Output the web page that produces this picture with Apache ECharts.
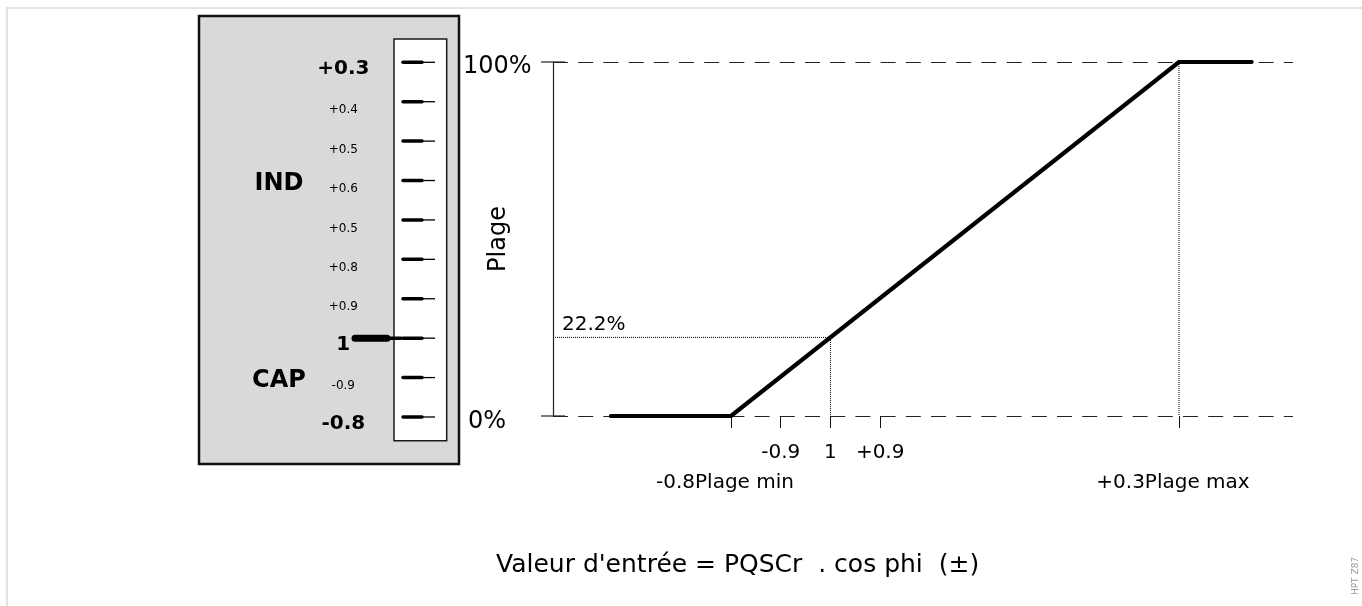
<!DOCTYPE html>
<html><head><meta charset="utf-8">
<script src="https://cdn.jsdelivr.net/npm/echarts@6/dist/echarts.min.js"></script>
<style>html,body{margin:0;padding:0;background:#fff}#c{width:1362px;height:606px}</style>
</head><body><div id="c"></div>
<script>
// ---------------- data ----------------
const scaleLabels = ['+0.3', '+0.4', '+0.5', '+0.6', '+0.5', '+0.8', '+0.9', '1', '-0.9', '-0.8'];
const scaleBold = [0, 7, 9];
const sideLabels = ['IND', 'CAP'];
const sideLabelIndex = [3, 8];
const pointerIndex = 7;

const xTickValues = [0, 11.1, 22.2, 33.3, 100];
const xTickLabels = ['-0.8', '-0.9', '1', '+0.9', '+0.3'];
const xRangeValues = [0, 100];
const xRangeNames = ['Plage min', 'Plage max'];
const yTickValues = [0, 100];
const yTickLabels = ['0%', '100%'];
const curveX = [-26.8, 0, 100, 116.2];
const curveY = [0, 0, 100, 100];
const refX = 22.2;
const refY = 22.2;
const refLabel = '22.2%';
const maxX = 100;
const titleText = "Valeur d'entrée = PQSCr  . cos phi  (±)";
const yName = 'Plage';
const stamp = 'HPT Z87';

// ---------------- layout / style ----------------
const FONT = '"DejaVu Sans", "Liberation Sans", sans-serif';
const X_MIN = -39.73, X_MAX = 125.45;
const S = { tickX0: 204, tickX1: 223, tickX2: 236, labelX: 144.3,
            ptrX0: 156, ptrX1: 188, ptrX2: 202, sideX: 80 };
const labelValueOf = v => xTickLabels[xTickValues.findIndex(t => Math.abs(t - v) < 1e-6)];
const axisLabelValues = xTickValues.filter(v => xRangeValues.indexOf(v) < 0);

const chart = echarts.init(document.getElementById('c'), null, { renderer: 'canvas' });

function renderScale(params, api) {
  const idx = api.value(1);
  const cs = params.coordSys;
  const y = api.coord([0, idx])[1];
  const bold = scaleBold.indexOf(idx) >= 0;
  const ch = [
    { type: 'line', shape: { x1: cs.x + S.tickX0, y1: y, x2: cs.x + S.tickX1, y2: y },
      style: { stroke: '#000', lineWidth: 3.5, lineCap: 'round' } },
    { type: 'line', shape: { x1: cs.x + S.tickX1, y1: y, x2: cs.x + S.tickX2, y2: y },
      style: { stroke: '#000', lineWidth: 1.3 } },
    { type: 'text', style: { text: scaleLabels[idx], x: cs.x + S.labelX, y: y + (bold ? 6.5 : 8.5),
      align: 'center', verticalAlign: 'middle', fill: '#000',
      font: bold ? 'bold 20px ' + FONT : '12px ' + FONT } }
  ];
  if (idx === pointerIndex) {
    ch.push({ type: 'line', shape: { x1: cs.x + S.ptrX0, y1: y, x2: cs.x + S.ptrX1, y2: y },
      style: { stroke: '#000', lineWidth: 7, lineCap: 'round' } });
    ch.push({ type: 'line', shape: { x1: cs.x + S.ptrX1, y1: y, x2: cs.x + S.ptrX2, y2: y },
      style: { stroke: '#000', lineWidth: 3.5, lineCap: 'round' } });
  }
  return { type: 'group', children: ch };
}

function renderSide(params, api) {
  const cs = params.coordSys;
  const idx = api.value(1);
  const y = api.coord([0, idx])[1];
  return { type: 'text', style: { text: sideLabels[params.dataIndex], x: cs.x + S.sideX, y: y + 3.5,
    align: 'center', verticalAlign: 'middle', fill: '#000', font: 'bold 24px ' + FONT } };
}

function renderCaps(params, api) {
  const cs = params.coordSys;
  const y = api.coord([X_MIN, api.value(1)])[1];
  const x = cs.x;
  return { type: 'line', shape: { x1: x - 12, y1: y, x2: x + 12, y2: y },
    style: { stroke: '#222', lineWidth: 1.2 } };
}

function renderRange(params, api) {
  const v = api.value(0);
  const p = api.coord([v, 0]);
  const r = params.dataIndex;
  return { type: 'text', style: { text: labelValueOf(v) + xRangeNames[r], x: p[0] - 6, y: p[1] + 66.5,
    align: 'center', verticalAlign: 'middle', fill: '#000', font: '20px ' + FONT } };
}

const option = {
  animation: false,
  backgroundColor: '#fff',
  textStyle: { fontFamily: FONT },
  title: { text: titleText, left: 491, top: 548,
    textStyle: { fontSize: 25, fontWeight: 'normal', color: '#000', fontFamily: FONT } },
  grid: [
    { left: 553, right: 69, top: 62, bottom: 190, containLabel: false, outerBoundsMode: 'none' },
    { left: 199, top: 16, width: 260, height: 448, show: true, backgroundColor: '#d9d9d9',
      borderColor: '#111', borderWidth: 2.5, containLabel: false, outerBoundsMode: 'none' }
  ],
  xAxis: [
    { type: 'value', gridIndex: 0, min: X_MIN, max: X_MAX, position: 'bottom',
      axisLine: { show: false, onZero: false }, splitLine: { show: false },
      axisTick: { show: true, customValues: xTickValues, length: 12, lineStyle: { color: '#111', width: 1 } },
      axisLabel: { show: true, customValues: axisLabelValues, margin: 26.5, color: '#000', fontSize: 20,
        hideOverlap: false, fontFamily: FONT, formatter: v => labelValueOf(v) } },
    { type: 'value', gridIndex: 1, min: 0, max: 1, show: false }
  ],
  yAxis: [
    { type: 'value', gridIndex: 0, min: 0, max: 100, interval: 100, position: 'left',
      name: yName, nameLocation: 'middle', nameRotate: 90, nameGap: 42, nameMoveOverlap: false,
      nameTextStyle: { fontSize: 24, color: '#000', fontFamily: FONT },
      axisLine: { show: true, onZero: false, lineStyle: { color: '#222', width: 1.2 } },
      axisTick: { show: false },
      axisLabel: { show: true, margin: 90, align: 'left', color: '#000', fontSize: 24,
        formatter: function (v) {
          const i = yTickValues.indexOf(v);
          return (v === 0 ? '{z|' : '{t|') + yTickLabels[i] + '}';
        },
        rich: { t: { fontSize: 24, color: '#000', fontFamily: FONT, padding: [9, 0, 0, 0] },
                z: { fontSize: 24, color: '#000', fontFamily: FONT, padding: [11, 0, 0, 5] } } },
      splitLine: { show: true, lineStyle: { color: '#222', width: 1, type: [15, 10.2], dashOffset: 0 } } },
    { type: 'value', gridIndex: 1, inverse: true, min: -1.175, max: 10.193, show: false }
  ],
  graphic: [
    { type: 'polyline', z: 0, silent: true, shape: { points: [[7, 606], [7, 8], [1362, 8]] },
      style: { stroke: '#e3e3e3', lineWidth: 2, fill: null } },
    { type: 'rect', z: 1, silent: true, shape: { x: 394, y: 39, width: 52.7, height: 401.7 },
      style: { fill: '#fff', stroke: '#1a1a1a', lineWidth: 1.5 } },
    { type: 'text', z: 1, silent: true, x: 1356, y: 576, rotation: Math.PI / 2,
      style: { text: stamp, align: 'center', verticalAlign: 'middle', fill: '#999', font: '9px ' + FONT } }
  ],
  series: [
    { type: 'custom', name: 'scale', xAxisIndex: 1, yAxisIndex: 1, z: 5,
      data: scaleLabels.map((l, i) => [0, i]), renderItem: renderScale, silent: true },
    { type: 'custom', name: 'side', xAxisIndex: 1, yAxisIndex: 1, z: 5,
      data: sideLabelIndex.map(i => [0, i]), renderItem: renderSide, silent: true },
    { type: 'custom', name: 'caps', xAxisIndex: 0, yAxisIndex: 0, z: 5, clip: false,
      data: yTickValues.map(v => [X_MIN, v]), renderItem: renderCaps, silent: true },
    { type: 'custom', name: 'range', xAxisIndex: 0, yAxisIndex: 0, z: 5, clip: false,
      data: xRangeValues.map(v => [v, 0]), renderItem: renderRange, silent: true },
    { type: 'line', name: 'curve', xAxisIndex: 0, yAxisIndex: 0, z: 6,
      data: curveX.map((x, i) => [x, curveY[i]]), showSymbol: false, symbol: 'none',
      lineStyle: { color: '#000', width: 4.2, cap: 'round', join: 'miter' } },
    { type: 'line', name: 'ref', xAxisIndex: 0, yAxisIndex: 0, z: 4,
      data: [ { value: [X_MIN, refY], label: { show: true } }, [refX, refY], [refX, 0] ],
      symbol: 'circle', symbolSize: 0, showSymbol: true,
      label: { show: false, formatter: refLabel, position: 'right', distance: 5, offset: [4, -13],
        color: '#000', fontSize: 20, fontFamily: FONT },
      lineStyle: { color: '#000', width: 1, type: [1, 1] } },
    { type: 'line', name: 'max', xAxisIndex: 0, yAxisIndex: 0, z: 4,
      data: [[maxX, 100], [maxX, 0]], showSymbol: false, symbol: 'none',
      lineStyle: { color: '#000', width: 1, type: [1, 1] } }
  ]
};
chart.setOption(option);
</script>
</body></html>
